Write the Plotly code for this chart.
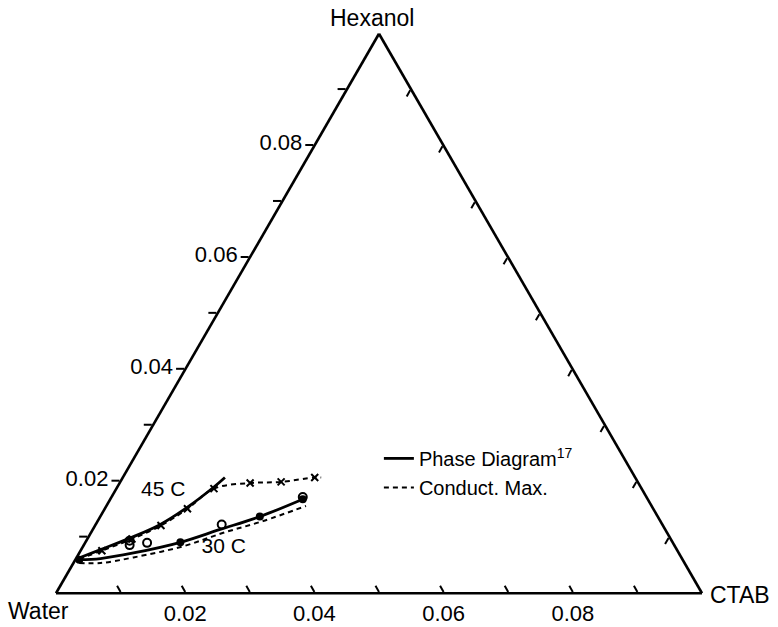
import plotly.graph_objects as go

# Mole fractions (Hexanol = a, CTAB = c, Water = remainder)
# 45 C phase diagram boundary (solid)
hex_45_pd = [0.0063, 0.0078, 0.0099, 0.0123, 0.0153, 0.0189, 0.0207]
ctab_45_pd = [0.0004, 0.0030, 0.0066, 0.0100, 0.0126, 0.0149, 0.0158]
# 45 C conductivity maximum (dashed)
hex_45_cm = [0.0061, 0.0076, 0.0097, 0.0121, 0.0151, 0.0187, 0.0197, 0.0199, 0.0207, 0.0207]
ctab_45_cm = [0.0005, 0.0033, 0.0069, 0.0102, 0.0128, 0.0151, 0.0202, 0.0249, 0.0297, 0.0307]
# 45 C conductivity max data points (x)
hex_45_pts = [0.0076, 0.0097, 0.0121, 0.0151, 0.0187, 0.0197, 0.0199, 0.0207]
ctab_45_pts = [0.0033, 0.0069, 0.0102, 0.0128, 0.0151, 0.0202, 0.0249, 0.0297]

# 30 C phase diagram boundary (solid)
hex_30_pd = [0.0060, 0.0062, 0.0072, 0.0091, 0.0114, 0.0137, 0.0168]
ctab_30_pd = [0.0006, 0.0038, 0.0084, 0.0147, 0.0197, 0.0247, 0.0298]
# 30 C phase diagram points (filled dots)
hex_30_pd_pts = [0.0060, 0.0091, 0.0137, 0.0168]
ctab_30_pd_pts = [0.0006, 0.0147, 0.0247, 0.0298]
# 30 C conductivity maximum (dashed)
hex_30_cm = [0.0054, 0.0054, 0.0064, 0.0084, 0.0108, 0.0129, 0.0156]
ctab_30_cm = [0.0009, 0.0042, 0.0088, 0.0155, 0.0205, 0.0256, 0.0309]
# 30 C conductivity max data points (open circles)
hex_30_cm_pts = [0.0094, 0.0086, 0.0090, 0.0123, 0.0172]
ctab_30_cm_pts = [0.0067, 0.0071, 0.0096, 0.0195, 0.0296]

# tick labels
a_tickvals = [0.01, 0.02, 0.03, 0.04, 0.05, 0.06, 0.07, 0.08, 0.09]
a_ticktext = [" ", "0.02", " ", "0.04", " ", "0.06", " ", "0.08", " "]
b_tickvals = [0.99, 0.98, 0.97, 0.96, 0.95, 0.94, 0.93, 0.92, 0.91]
b_ticktext = [" ", "0.02", " ", "0.04", " ", "0.06", " ", "0.08", " "]
c_tickvals = [0.01, 0.02, 0.03, 0.04, 0.05, 0.06, 0.07, 0.08, 0.09]

# corner labels
corner_text = ["Hexanol", "Water", "CTAB"]

FONT = "Liberation Sans, Arial, sans-serif"


def water(a_list, c_list):
    return [1 - a - c for a, c in zip(a_list, c_list)]


fig = go.Figure()


def line_trace(a, c, dash, name=None, legend=False, width=2.4):
    return go.Scatterternary(
        a=a, b=water(a, c), c=c, mode="lines",
        line=dict(color="black", width=width, dash=dash, shape="spline"),
        name=name, showlegend=legend, hoverinfo="skip",
    )


fig.add_trace(line_trace(hex_45_pd, ctab_45_pd, "solid", "Phase Diagram<sup>17</sup>", True, 2.8))
fig.add_trace(line_trace(hex_45_cm, ctab_45_cm, "5px,4px", "Conduct. Max.", True, 2))
fig.add_trace(line_trace(hex_30_pd, ctab_30_pd, "solid", width=2.8))
fig.add_trace(line_trace(hex_30_cm, ctab_30_cm, "5px,4px", width=2))

fig.add_trace(go.Scatterternary(
    a=hex_45_pts, b=water(hex_45_pts, ctab_45_pts), c=ctab_45_pts, mode="markers",
    marker=dict(symbol="x-thin", size=7, line=dict(color="black", width=2)),
    showlegend=False, hoverinfo="skip"))
fig.add_trace(go.Scatterternary(
    a=hex_30_pd_pts, b=water(hex_30_pd_pts, ctab_30_pd_pts), c=ctab_30_pd_pts, mode="markers",
    marker=dict(symbol="circle", size=8, color="black"),
    showlegend=False, hoverinfo="skip"))
fig.add_trace(go.Scatterternary(
    a=hex_30_cm_pts, b=water(hex_30_cm_pts, ctab_30_cm_pts), c=ctab_30_cm_pts, mode="markers",
    marker=dict(symbol="circle-open", size=8, color="black", line=dict(width=2)),
    showlegend=False, hoverinfo="skip"))

# curve labels
label_hex = [0.0184, 0.0081]
label_ctab = [0.0074, 0.0219]
label_text = ["45 C", "30 C"]
fig.add_trace(go.Scatterternary(
    a=label_hex, b=water(label_hex, label_ctab), c=label_ctab, mode="text",
    text=label_text, textfont=dict(family=FONT, size=21, color="black"),
    showlegend=False, hoverinfo="skip"))

axis_common = dict(
    showgrid=False, linecolor="black", linewidth=2.6,
    tickwidth=2, tickcolor="black",
    tickfont=dict(family=FONT, size=22, color="black"),
    title=dict(text=""),
)

corner_font = dict(family=FONT, size=23, color="black")

fig.update_layout(
    width=778, height=627,
    margin=dict(l=0, r=0, t=0, b=0),
    paper_bgcolor="white",
    showlegend=True,
    legend=dict(x=0.487, y=0.30, xanchor="left", yanchor="top",
                font=dict(family=FONT, size=20, color="black"),
                bgcolor="rgba(0,0,0,0)", itemwidth=30),
    ternary=dict(
        sum=1,
        bgcolor="white",
        domain=dict(x=[56 / 778, 702 / 778], y=[32 / 627, 595 / 627]),
        aaxis=dict(min=0, tickmode="array", tickvals=a_tickvals, ticktext=a_ticktext,
                   ticks="outside", ticklen=8, **axis_common),
        baxis=dict(min=0.9, tickmode="array", tickvals=b_tickvals, ticktext=b_ticktext,
                   ticks="inside", ticklen=7, **axis_common),
        caxis=dict(min=0, tickmode="array", tickvals=c_tickvals, showticklabels=False,
                   ticks="inside", ticklen=7, **axis_common),
    ),
    annotations=[
        dict(text=corner_text[0], x=372 / 778, y=1 - 18 / 627, xref="paper", yref="paper",
             xanchor="center", yanchor="middle", showarrow=False, font=corner_font),
        dict(text=corner_text[1], x=38 / 778, y=1 - 611 / 627, xref="paper", yref="paper",
             xanchor="center", yanchor="middle", showarrow=False, font=corner_font),
        dict(text=corner_text[2], x=740 / 778, y=1 - 595 / 627, xref="paper", yref="paper",
             xanchor="center", yanchor="middle", showarrow=False, font=corner_font),
    ],
)

fig.write_html("out.html")
